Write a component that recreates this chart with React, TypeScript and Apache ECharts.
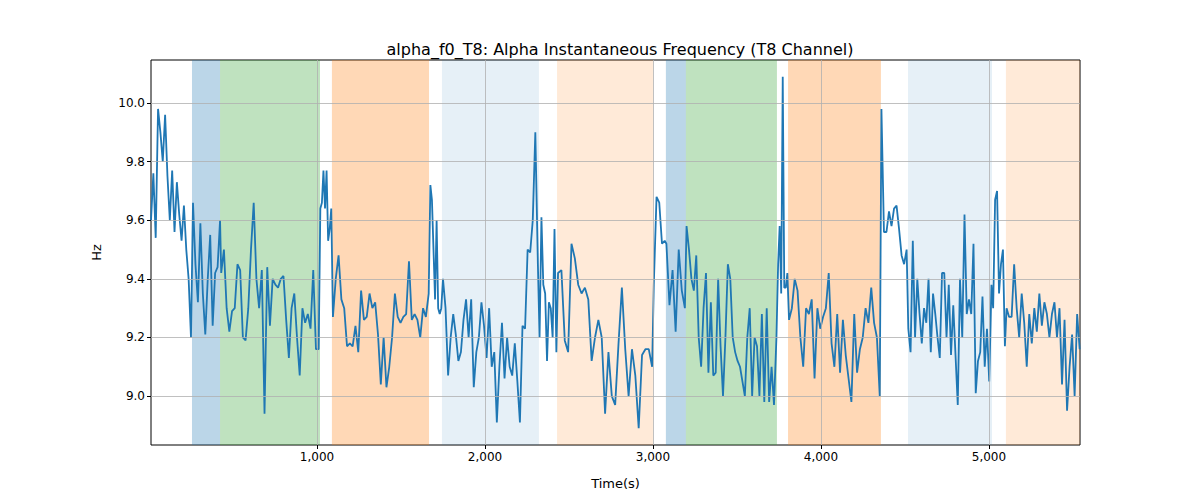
import React from "react";
import * as echarts from "echarts";

// each segment: [startTime, endTime], values sampled evenly inside it
const segTimes: [number, number][] = [
  [12, 250], [262, 423], [430, 1010], [1020, 1085], [1095, 1665], [1675, 1740],
  [1750, 2315], [2325, 2425], [2435, 2995], [3005, 3070], [3080, 3190],
  [3200, 3735], [3745, 3800], [3810, 4350], [4360, 4510], [4520, 5015],
  [5025, 5095], [5105, 5540],
];
const segValues: number[][] = [
  [9.6, 9.76, 9.54, 9.98, 9.9, 9.8, 9.96, 9.75, 9.6, 9.77, 9.56, 9.73, 9.62, 9.53, 9.65, 9.5, 9.4, 9.2],
  [9.66, 9.45, 9.32, 9.59, 9.35, 9.21, 9.4, 9.55, 9.24, 9.42, 9.44, 9.6],
  [9.42, 9.5, 9.3, 9.22, 9.29, 9.3, 9.45, 9.43, 9.2, 9.19, 9.3, 9.5, 9.66, 9.4, 9.3, 9.43, 8.94, 9.44, 9.24, 9.4, 9.38, 9.37, 9.4, 9.41, 9.26, 9.13, 9.3, 9.35, 9.2, 9.07, 9.3, 9.25, 9.28, 9.23, 9.43, 9.16, 9.16],
  [9.64, 9.66, 9.77, 9.64, 9.77, 9.53, 9.57, 9.64],
  [9.27, 9.4, 9.48, 9.33, 9.3, 9.17, 9.18, 9.17, 9.24, 9.15, 9.36, 9.26, 9.27, 9.35, 9.3, 9.32, 9.21, 9.04, 9.2, 9.03, 9.1, 9.2, 9.35, 9.27, 9.25, 9.27, 9.28, 9.46, 9.26, 9.28, 9.26, 9.2, 9.3, 9.27, 9.35],
  [9.72, 9.67, 9.5, 9.33, 9.6, 9.3, 9.28, 9.3],
  [9.4, 9.3, 9.07, 9.2, 9.28, 9.21, 9.12, 9.15, 9.26, 9.33, 9.2, 9.33, 9.03, 9.15, 9.2, 9.32, 9.24, 9.13, 9.3, 9.1, 9.15, 8.91, 9.1, 9.25, 9.06, 9.2, 9.1, 9.07, 9.18, 9.05, 8.91, 9.24, 9.23, 9.5, 9.49, 9.6, 9.9, 9.45],
  [9.2, 9.61, 9.38, 9.35, 9.12, 9.32, 9.3, 9.2, 9.57, 9.15],
  [9.42, 9.43, 9.19, 9.15, 9.52, 9.47, 9.38, 9.35, 9.37, 9.33, 9.12, 9.2, 9.26, 9.2, 8.94, 9.15, 9.0, 8.97, 9.18, 9.37, 9.16, 9.0, 9.16, 9.07, 8.89, 9.14, 9.16, 9.16, 9.1],
  [9.38, 9.68, 9.66, 9.52, 9.53],
  [9.52, 9.31, 9.43, 9.22, 9.5, 9.36, 9.3],
  [9.58, 9.5, 9.4, 9.36, 9.48, 9.2, 9.1, 9.3, 9.42, 9.08, 9.32, 9.07, 9.08, 9.4, 9.17, 9.0, 9.2, 9.45, 9.4, 9.2, 9.15, 9.12, 9.1, 9.05, 9.0, 9.2, 9.3, 9.0, 9.2, 9.17, 9.0, 9.28, 8.98, 9.3, 8.98, 9.1, 8.97, 9.2],
  [9.45, 9.58, 9.35, 10.09, 9.37, 9.37, 9.42],
  [9.26, 9.3, 9.4, 9.36, 9.2, 9.1, 9.3, 9.28, 9.33, 9.06, 9.3, 9.23, 9.27, 9.3, 9.42, 9.18, 9.1, 9.28, 9.08, 9.26, 9.14, 9.06, 8.98, 9.28, 9.08, 9.16, 9.2, 9.3, 9.25, 9.37, 9.25, 9.2, 9.0],
  [9.98, 9.56, 9.56, 9.63, 9.58, 9.64, 9.65, 9.57, 9.48, 9.45, 9.5],
  [9.23, 9.15, 9.53, 9.2, 9.4, 9.28, 9.18, 9.3, 9.25, 9.4, 9.15, 9.35, 9.28, 9.2, 9.13, 9.42, 9.42, 9.2, 9.38, 9.14, 9.31, 9.14, 8.97, 9.4, 9.2, 9.62, 9.28, 9.33, 9.28, 9.52, 9.01, 9.12, 9.15, 9.34, 9.1, 9.23, 9.05, 9.38],
  [9.3, 9.67, 9.7, 9.35, 9.45, 9.5, 9.17],
  [9.3, 9.27, 9.27, 9.45, 9.3, 9.2, 9.35, 9.25, 9.1, 9.28, 9.18, 9.3, 9.22, 9.35, 9.24, 9.32, 9.28, 9.2, 9.28, 9.32, 9.2, 9.3, 9.04, 9.26, 8.95, 9.1, 9.21, 9.0, 9.28, 9.16],
];

const bands: [number, number, string][] = [
  [256, 423, "rgba(31,119,180,0.3)"],
  [423, 1018, "rgba(44,160,44,0.3)"],
  [1089, 1667, "rgba(255,127,14,0.3)"],
  [1744, 2321, "rgba(31,119,180,0.11)"],
  [2429, 3000, "rgba(255,127,14,0.16)"],
  [3077, 3196, "rgba(31,119,180,0.3)"],
  [3196, 3738, "rgba(44,160,44,0.3)"],
  [3804, 4357, "rgba(255,127,14,0.3)"],
  [4518, 5018, "rgba(31,119,180,0.11)"],
  [5101, 5542, "rgba(255,127,14,0.16)"],
];

const xTicks = [1000, 2000, 3000, 4000, 5000];
const yTicks = [9.0, 9.2, 9.4, 9.6, 9.8, 10.0];

export default function App() {
  const ref = React.useRef<HTMLDivElement>(null);
  React.useEffect(() => {
    const chart = echarts.init(ref.current, null, { renderer: "svg" });
    const points: [number, number][] = [];
    segValues.forEach((vals, s) => {
      const [a, b] = segTimes[s];
      vals.forEach((v, i) => {
        const t = vals.length > 1 ? a + ((b - a) * i) / (vals.length - 1) : a;
        points.push([t, v]);
      });
    });
    const font = "DejaVu Sans";
    const gridLine = { color: "#b0b0b0", width: 0.8, type: "solid" as const };
    chart.setOption({
      animation: false,
      textStyle: { fontFamily: font },
      title: {
        text: "alpha_f0_T8: Alpha Instantaneous Frequency (T8 Channel)",
        left: 615, top: 36, textAlign: "center",
        textStyle: { fontSize: 16, fontWeight: "normal", color: "#000", fontFamily: font },
      },
      grid: { left: 151, right: 120, top: 60, bottom: 55, show: true, borderColor: "#000", borderWidth: 1 },
      xAxis: {
        type: "value", min: 12, max: 5542,
        name: "Time(s)", nameLocation: "middle", nameGap: 32,
        nameTextStyle: { fontSize: 13, color: "#000" },
        axisLine: { show: false },
        axisTick: { show: true, length: 4, customValues: xTicks, lineStyle: { color: "#000" } },
        axisLabel: { customValues: xTicks, color: "#000", fontSize: 12, margin: 6 },
        splitLine: { show: false },
      },
      yAxis: {
        type: "value", min: 8.833, max: 10.147,
        name: "Hz", nameLocation: "middle", nameGap: 48,
        nameTextStyle: { fontSize: 13, color: "#000" },
        axisLine: { show: false },
        axisTick: { show: true, length: 4, customValues: yTicks, lineStyle: { color: "#000" } },
        axisLabel: { customValues: yTicks, color: "#000", fontSize: 12, margin: 6, formatter: (v: number) => v.toFixed(1) },
        splitLine: { show: false },
      },
      series: [
        {
          type: "line", data: [], silent: true,
          markArea: {
            silent: true,
            data: bands.map(([a, b, c]) => [{ xAxis: a, itemStyle: { color: c } }, { xAxis: b }]),
          },
          markLine: {
            silent: true, symbol: "none", label: { show: false }, lineStyle: gridLine,
            data: [...xTicks.map((x) => ({ xAxis: x })), ...yTicks.map((y) => ({ yAxis: y }))],
          },
        },
        {
          type: "line", data: points, showSymbol: false, silent: true,
          lineStyle: { color: "#1f77b4", width: 1.8 }, itemStyle: { color: "#1f77b4" },
        },
      ],
    });
    return () => chart.dispose();
  }, []);
  return <div ref={ref} style={{ width: 1200, height: 500, margin: -8 }} />;
}
